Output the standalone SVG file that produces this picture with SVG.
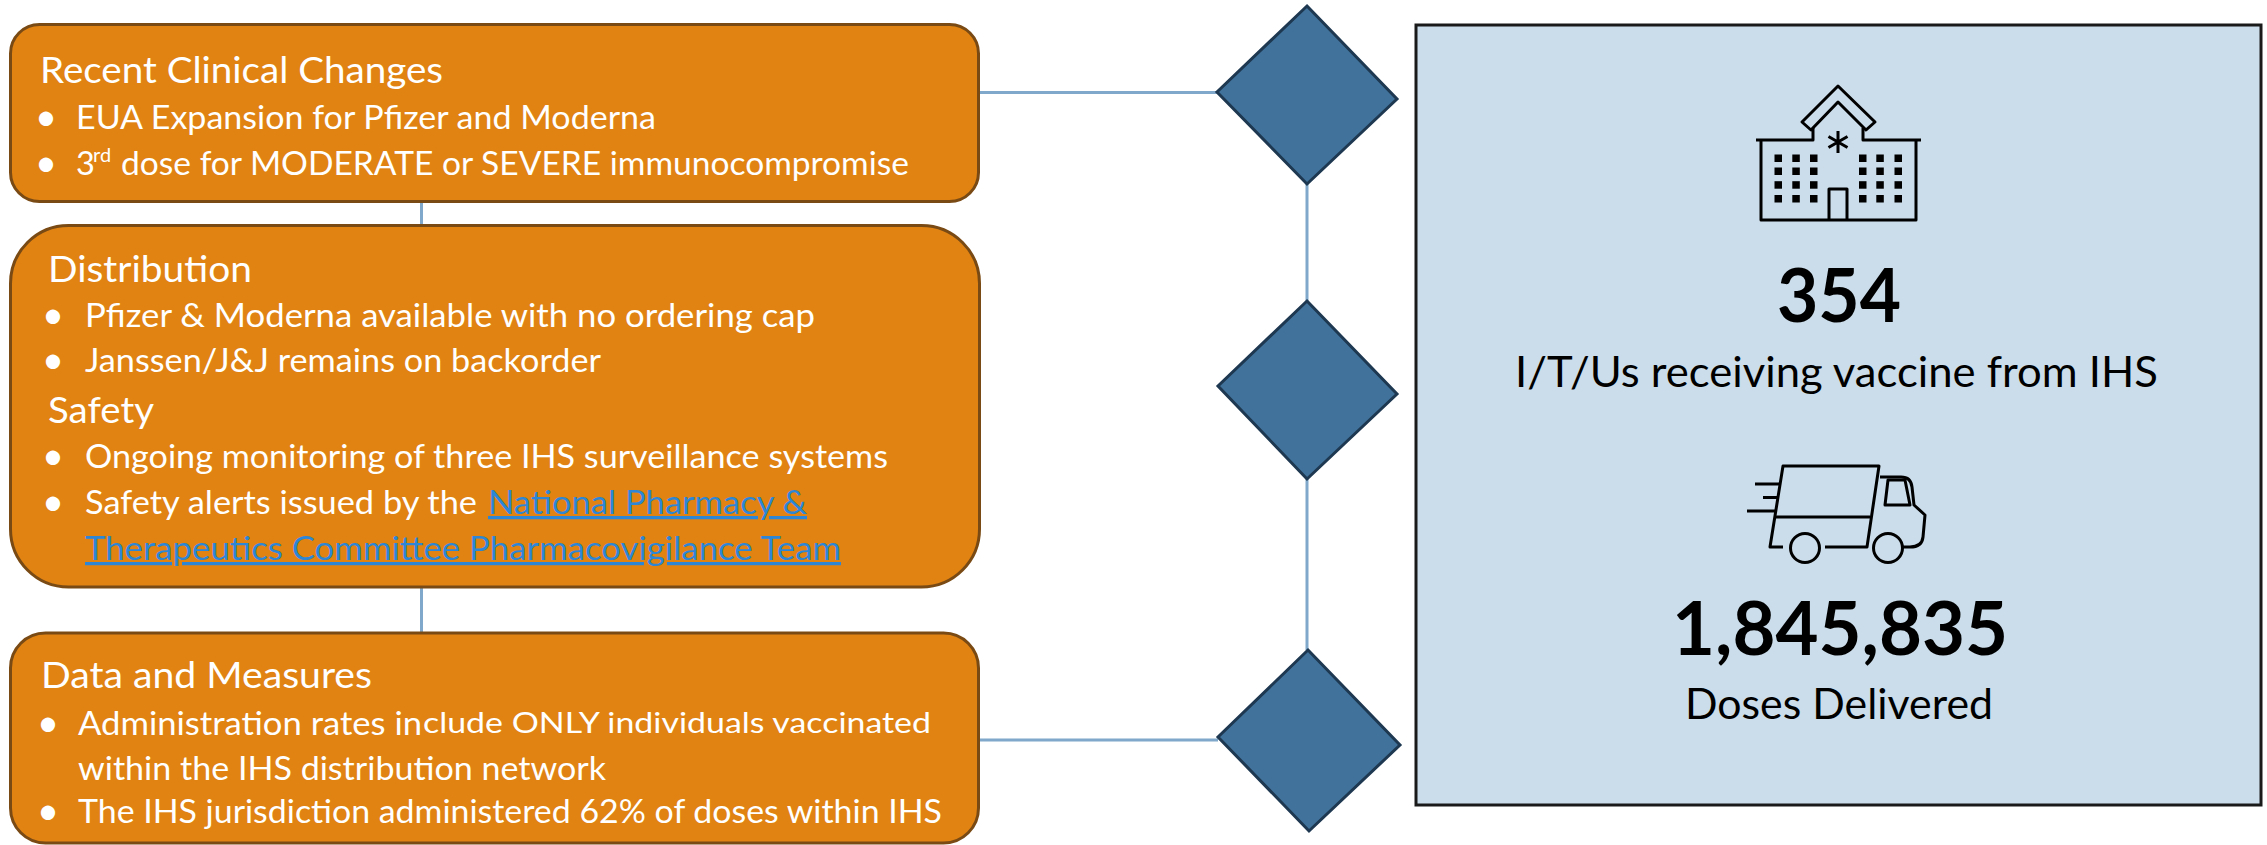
<svg xmlns="http://www.w3.org/2000/svg" width="2267" height="845" viewBox="0 0 2267 845">
<style>
.box{fill:#E08312;stroke:#7A4A14;stroke-width:3}
.dia{fill:#41729B;stroke:#1D3850;stroke-width:3;stroke-linejoin:miter}
.con{stroke:#7FA8CA;stroke-width:3;fill:none}
.t{font-family:Lato,"Open Sans","Liberation Sans",sans-serif;fill:#FFFFFF}
.h{font-size:37px}
.b{font-size:32.5px}
.dot{font-size:38px;text-anchor:middle}
.lnk{fill:#2E86D6;text-decoration:underline}
.k{font-family:Lato,"Open Sans","Liberation Sans",sans-serif;fill:#000000}
.num{font-size:74px;font-weight:bold}
.lab{font-size:42px}
.ic{fill:none;stroke:#000;stroke-width:3;stroke-linejoin:round}
.win{fill:#000}
</style>
<rect width="2267" height="845" fill="#FFFFFF"/>

<g id="connectors">
  <line class="con" x1="421.5" y1="201" x2="421.5" y2="225"/>
  <line class="con" x1="421.5" y1="587" x2="421.5" y2="633"/>
  <line class="con" x1="978" y1="92.5" x2="1217" y2="92.5"/>
  <line class="con" x1="978" y1="740" x2="1218" y2="740"/>
  <line class="con" x1="1307" y1="184" x2="1307" y2="301"/>
  <line class="con" x1="1307" y1="479" x2="1307" y2="650"/>
</g>

<g id="node-recent-clinical-changes">
  <rect class="box" x="10.5" y="24.5" width="968" height="177" rx="29" ry="29"/>
  <text class="t h" x="40" y="82.7" textLength="403" lengthAdjust="spacingAndGlyphs">Recent Clinical Changes</text>
  <text class="t dot" x="46" y="130">•</text>
  <text class="t b" x="76" y="129.3" textLength="580" lengthAdjust="spacingAndGlyphs">EUA Expansion for Pfizer and Moderna</text>
  <text class="t dot" x="46" y="175.7">•</text>
  <text class="t b" x="76" y="175">3</text>
  <text class="t" x="93" y="162" font-size="20">rd</text>
  <text class="t b" x="121" y="175" textLength="788" lengthAdjust="spacingAndGlyphs">dose for MODERATE or SEVERE immunocompromise</text>
</g>

<g id="node-distribution-safety">
  <rect class="box" x="10.5" y="225.5" width="969" height="361.5" rx="58" ry="58"/>
  <text class="t h" x="48" y="282" textLength="204" lengthAdjust="spacingAndGlyphs">Distribution</text>
  <text class="t dot" x="53" y="327.7">•</text>
  <text class="t b" x="85" y="327" textLength="730" lengthAdjust="spacingAndGlyphs">Pfizer &amp; Moderna available with no ordering cap</text>
  <text class="t dot" x="53" y="372.7">•</text>
  <text class="t b" x="85" y="372" textLength="516" lengthAdjust="spacingAndGlyphs">Janssen/J&amp;J remains on backorder</text>
  <text class="t h" x="48" y="423" textLength="106" lengthAdjust="spacingAndGlyphs">Safety</text>
  <text class="t dot" x="53" y="468.7">•</text>
  <text class="t b" x="85" y="468" textLength="803" lengthAdjust="spacingAndGlyphs">Ongoing monitoring of three IHS surveillance systems</text>
  <text class="t dot" x="53" y="514.7">•</text>
  <text class="t b" x="85" y="514" textLength="392" lengthAdjust="spacingAndGlyphs">Safety alerts issued by the</text>
  <text class="t b lnk" x="488" y="514" textLength="319" lengthAdjust="spacingAndGlyphs">National Pharmacy &amp;</text>
  <text class="t b lnk" x="85" y="560" textLength="756" lengthAdjust="spacingAndGlyphs">Therapeutics Committee Pharmacovigilance Team</text>
</g>

<g id="node-data-measures">
  <rect class="box" x="10.5" y="633" width="968" height="210" rx="35" ry="35"/>
  <text class="t h" x="41" y="688" textLength="331" lengthAdjust="spacingAndGlyphs">Data and Measures</text>
  <text class="t dot" x="48" y="735.7">•</text>
  <text class="t b" x="78" y="735" textLength="344" lengthAdjust="spacingAndGlyphs">Administration rates in</text>
  <text class="t" x="423" y="732.5" font-size="29" textLength="508" lengthAdjust="spacingAndGlyphs">clude ONLY individuals vaccinated</text>
  <text class="t b" x="78" y="780" textLength="528" lengthAdjust="spacingAndGlyphs">within the IHS distribution network</text>
  <text class="t dot" x="48" y="823.7">•</text>
  <text class="t b" x="78" y="823" textLength="864" lengthAdjust="spacingAndGlyphs">The IHS jurisdiction administered 62% of doses within IHS</text>
</g>

<g id="node-diamond-1">
  <polygon class="dia" points="1307,6 1397,99 1307,184 1217,92"/>
</g>
<g id="node-diamond-2">
  <polygon class="dia" points="1307,301 1397,394 1307,479 1218,386"/>
</g>
<g id="node-diamond-3">
  <polygon class="dia" points="1308,650 1400,745 1309,831 1218,737"/>
</g>

<g id="node-stats-panel">
  <rect x="1416" y="25" width="845" height="780" fill="#CBDDEA" stroke="#1A1A1A" stroke-width="3"/>
  <g id="icon-hospital">
    <path class="ic" d="M1761,141 V220 H1916 V141"/>
    <path class="ic" d="M1756,140 H1813 V128 M1863,128 V140 H1921"/>
    <polygon class="ic" points="1802,122 1838,86 1875,122 1866,130 1838,102 1811,130"/>
    <path class="ic" stroke-width="2.5" d="M1838,131 V153 M1828.5,136.5 L1847.5,147.5 M1847.5,136.5 L1828.5,147.5"/>
    <g class="win">
      <rect x="1774.5" y="154.5" width="7.5" height="7.5"/><rect x="1792.3" y="154.5" width="7.5" height="7.5"/><rect x="1810" y="154.5" width="7.5" height="7.5"/>
      <rect x="1774.5" y="167.5" width="7.5" height="7.5"/><rect x="1792.3" y="167.5" width="7.5" height="7.5"/><rect x="1810" y="167.5" width="7.5" height="7.5"/>
      <rect x="1774.5" y="181.2" width="7.5" height="7.5"/><rect x="1792.3" y="181.2" width="7.5" height="7.5"/><rect x="1810" y="181.2" width="7.5" height="7.5"/>
      <rect x="1774.5" y="195" width="7.5" height="7.5"/><rect x="1792.3" y="195" width="7.5" height="7.5"/><rect x="1810" y="195" width="7.5" height="7.5"/>
      <rect x="1859" y="154.5" width="7.5" height="7.5"/><rect x="1876.3" y="154.5" width="7.5" height="7.5"/><rect x="1894.5" y="154.5" width="7.5" height="7.5"/>
      <rect x="1859" y="167.5" width="7.5" height="7.5"/><rect x="1876.3" y="167.5" width="7.5" height="7.5"/><rect x="1894.5" y="167.5" width="7.5" height="7.5"/>
      <rect x="1859" y="181.2" width="7.5" height="7.5"/><rect x="1876.3" y="181.2" width="7.5" height="7.5"/><rect x="1894.5" y="181.2" width="7.5" height="7.5"/>
      <rect x="1859" y="195" width="7.5" height="7.5"/><rect x="1876.3" y="195" width="7.5" height="7.5"/><rect x="1894.5" y="195" width="7.5" height="7.5"/>
    </g>
    <path class="ic" d="M1829,220 V189 H1847 V220"/>
  </g>
  <text class="k num" x="1777" y="321.7" textLength="124" lengthAdjust="spacingAndGlyphs">354</text>
  <text class="k lab" x="1515" y="387" textLength="643" lengthAdjust="spacingAndGlyphs">I/T/Us receiving vaccine from IHS</text>
  <g id="icon-truck">
    <path class="ic" stroke-width="3.3" d="M1783,547 H1770 L1783,466 H1879 L1867,547 H1825"/>
    <path class="ic" stroke-width="3.3" d="M1775,517 H1870"/>
    <circle class="ic" stroke-width="3.3" cx="1805" cy="548" r="14.5"/>
    <circle class="ic" stroke-width="3.3" cx="1888" cy="548" r="14.5"/>
    <path class="ic" stroke-width="3.3" d="M1880,477 H1901 Q1911,477 1912,487 L1914,505 L1925,515 L1923,537 Q1922,547 1910,547 H1903"/>
    <path class="ic" stroke-width="3.3" d="M1888,480 H1905 L1910,505 H1885 Z"/>
    <path class="ic" stroke-width="3.3" d="M1755,484 H1779 M1763,497.5 H1777 M1747,511 H1776"/>
  </g>
  <text class="k num" x="1672" y="655" textLength="336" lengthAdjust="spacingAndGlyphs">1,845,835</text>
  <text class="k lab" x="1685" y="719.3" textLength="308" lengthAdjust="spacingAndGlyphs">Doses Delivered</text>
</g>
</svg>
